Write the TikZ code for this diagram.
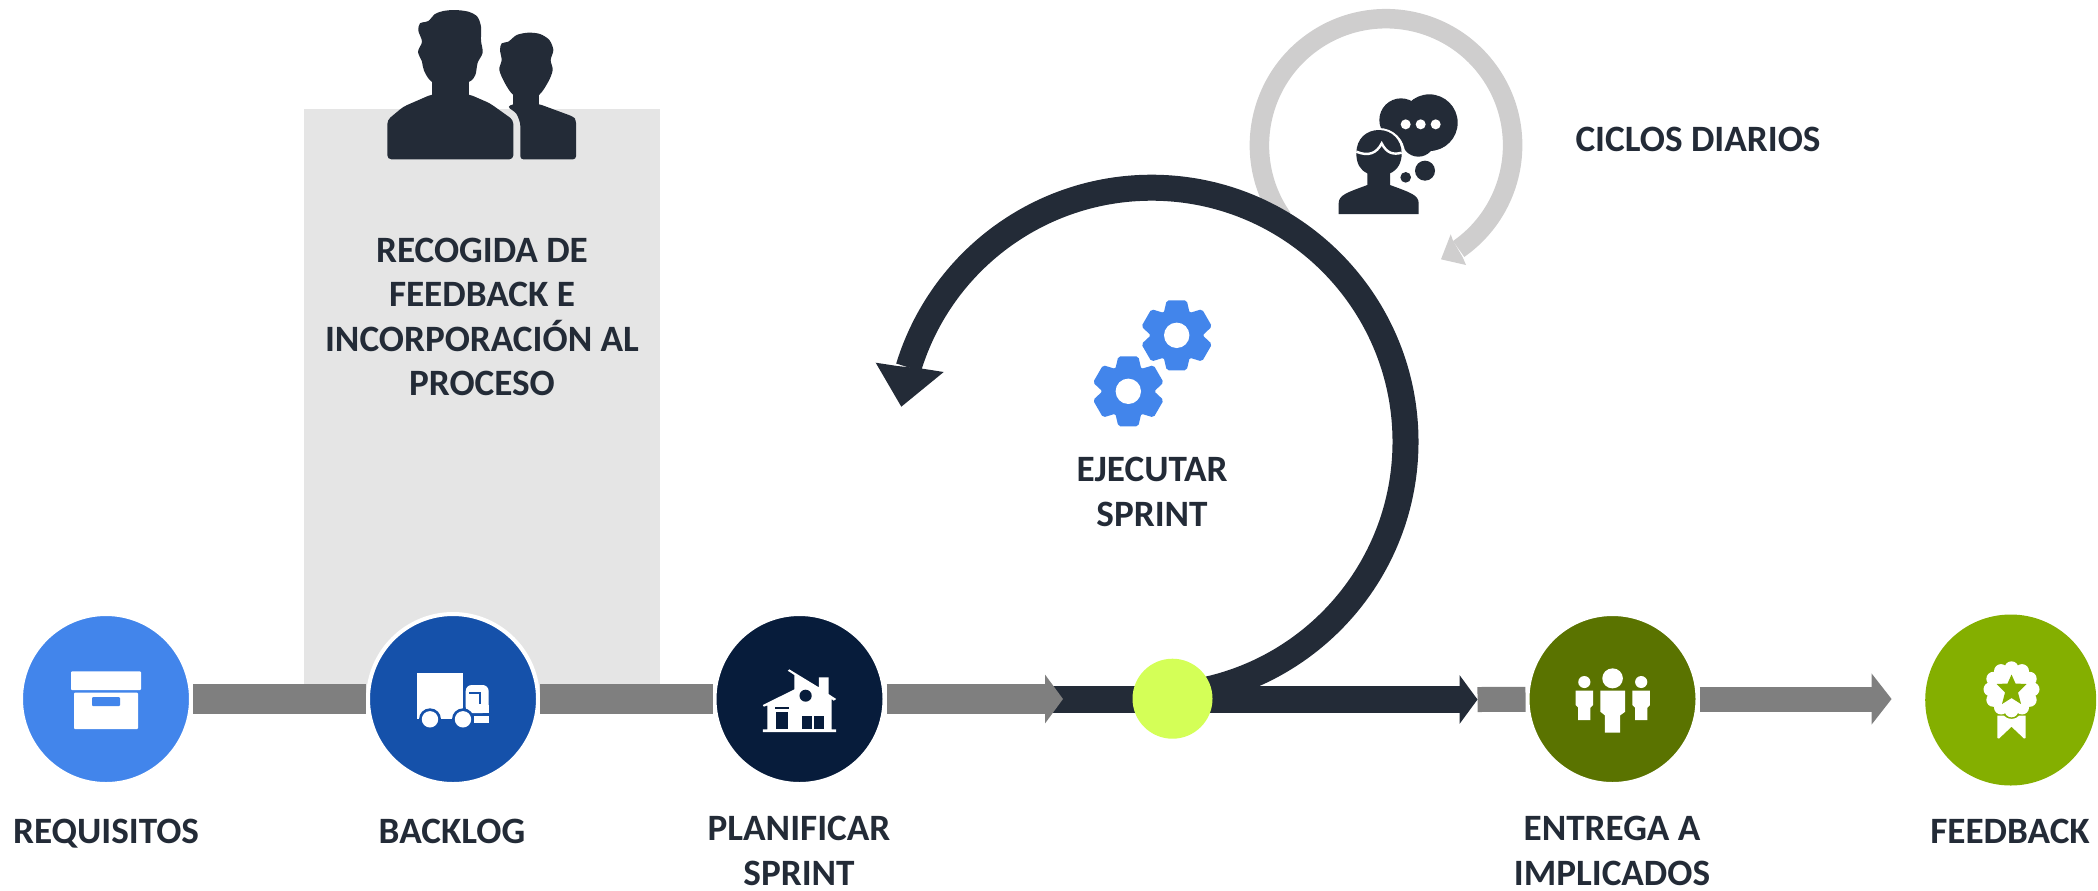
\documentclass[tikz,border=0pt]{standalone}
\usepackage{fontspec}
\setmainfont{Carlito}
\usetikzlibrary{arrows.meta}
\definecolor{ink}{HTML}{232B37}
\definecolor{barg}{HTML}{7F7F7F}
\definecolor{panelg}{HTML}{E5E5E5}
\definecolor{lightarc}{HTML}{CFCECE}
\definecolor{cone}{HTML}{4285EB}
\definecolor{ctwo}{HTML}{1551AA}
\definecolor{cthree}{HTML}{071C3B}
\definecolor{cfour}{HTML}{5A7300}
\definecolor{cfive}{HTML}{84AF00}
\definecolor{lime}{HTML}{D4FF57}
\tikzset{
  stage/.style={circle,inner sep=0pt,minimum size=85pt,draw=white,line width=2pt},
  lbl/.style={text=ink,align=center,inner sep=0pt,font=\fontsize{18.6}{22.3}\selectfont\bfseries},
  barwide/.style={draw=barg,line width=15pt},
  barthin/.style={draw=barg,line width=12.5pt},
  gear/.pic={
    \fill[cone] (0,0) circle[radius=27];
    \foreach \a in {0,60,...,300}{
      \fill[cone,rotate=\a,rounded corners=1pt] (-13.5,-20) -- (-10,-35) -- (10,-35) -- (13.5,-20) -- cycle;
    }
    \fill[white] (0,0) circle[radius=12.7];
  }
}
\begin{document}
\begin{tikzpicture}[x=0.5pt,y=-0.5pt]
\useasboundingbox (0,0) rectangle (2098,890);
% panel
\fill[panelg] (304,109) rectangle (659.5,700);
% stage nodes
\node[stage,fill=cone] (c1) at (106,699) {};
\node[stage,fill=ctwo] (c2) at (453,699) {};
\node[stage,fill=cthree] (c3) at (799.5,699) {};
\node[stage,fill=cfour] (c4) at (1612.5,699) {};
\node[circle,inner sep=0pt,minimum size=85.5pt,fill=cfive] (c5) at (2010.7,700) {};
\coordinate (a3end) at (1063,699);
\coordinate (d0) at (1050,699.5);
\coordinate (d1) at (1477.5,699.5);
\coordinate (a5end) at (1891.6,699);
\coordinate (darkstart) at (1151.5,695.7);
\coordinate (lightstart) at (1282.3,217.9);
% light loop
\draw[lightarc,line width=9.75pt] (lightstart) arc[start angle=-215,end angle=55,radius=126.6];
\fill[lightarc] (1441,259.3) -- (1450.7,234.3) -- (1453,240.7) -- (1462.7,257.3) -- (1466,265) -- cycle;
% grey bars
\draw[barwide] (c1) -- (c2);
\draw[barwide] (c2) -- (c3);
\draw[barthin] (d1) -- (c4);
% dark sprint flow
\draw[ink,line width=13.5pt,-{Triangle[length=9pt,width=24pt]}] (d0) -- (d1);
\draw[ink,line width=13pt] (darkstart) arc[start angle=90,end angle=-163,radius=254];
\fill[ink] (901.3,406.7) -- (875.7,362.7) -- (897.3,366) -- (922.7,368.7) -- (943.7,372) -- cycle;
\draw[barwide,-{Triangle[length=9pt,width=24pt]}] (c3) -- (a3end);
\draw[barthin,-{Triangle[length=10pt,width=25pt]}] (c4) -- (a5end);
\node[circle,inner sep=0pt,minimum size=40pt,fill=lime] (y) at (1172.5,698.7) {};
% box icon
\fill[white,rounded corners=0.5pt] (71,671.3) rectangle (141,690);
\fill[white,rounded corners=0.5pt] (74,692.7) rectangle (138,729);
\fill[cone,rounded corners=0.5pt] (92,697) rectangle (120,706);
% truck icon
\fill[white] (417,672.7) rectangle (463,719.3);
\fill[white,rounded corners=3pt] (465.7,713) -- (465.7,685) -- (488.6,685) -- (488.6,713) -- cycle;
\fill[white] (465.7,705) rectangle (488.6,713);
\draw[ctwo,line width=1pt] (469,693) -- (480,693) -- (480,704);
\fill[white] (474,716.3) rectangle (488.6,723.3);
\foreach \w in {430,463}{
  \fill[ctwo] (\w,719.3) circle[radius=11];
  \fill[white] (\w,719.3) circle[radius=8.2];
}
% house icon
\begin{scope}[shift={(700,600)},x=0.2551pt,y=-0.1667pt]
\fill[white] (123,315) -- (185,268) -- (185,225) -- (172,212) -- (175,208) -- (233,262) -- (233,232) -- (252,232) -- (252,282) -- (267,297) -- (262,302) -- (258,297) -- (258,388) -- (267,388) -- (267,396) -- (123,396) -- (123,388) -- (132,388) -- (132,316) -- (125,320) -- cycle;
\fill[cthree] (207,287) ellipse[x radius=12,y radius=18];
\fill[cthree] (147,320) rectangle (175,327);
\fill[cthree] (149,335) rectangle (173,388);
\fill[cthree] (200,347) rectangle (220,388);
\fill[cthree] (223,347) rectangle (243,388);
\end{scope}
% team icon
\begin{scope}[shift={(1500,600)},x=0.1908pt,y=-0.1667pt]
\fill[white] (295,235) ellipse[x radius=27,y radius=30];
\fill[white] (221,246) ellipse[x radius=16,y radius=18];
\fill[white] (370,246) ellipse[x radius=16,y radius=18];
\fill[white] (263,272) -- (328,272) -- (328,335) -- (315,346) -- (315,398) -- (275,398) -- (275,346) -- (263,335) -- cycle;
\fill[white] (198,272) -- (244,272) -- (244,315) -- (237,323) -- (237,360) -- (205,360) -- (205,323) -- (198,315) -- cycle;
\fill[white] (347,272) -- (393,272) -- (393,315) -- (386,323) -- (386,360) -- (354,360) -- (354,323) -- (347,315) -- cycle;
\end{scope}
% medal icon
\foreach \a in {0,30,...,330}{
  \fill[white] (2011.5,689.3) ++(\a:21) circle[radius=7];
}
\fill[white] (2011.5,689.3) circle[radius=22];
\fill[cfive] (2011.5,674.5) -- (2015.5,683.5) -- (2026.5,684) -- (2018,692.5) -- (2021,704) -- (2011.5,698) -- (2002,704) -- (2005,692.5) -- (1996.5,684) -- (2007.5,683.5) -- cycle;
\fill[white] (1997.3,715.7) -- (2004,715.7) .. controls (2007,720) and (2016,720) .. (2019,715.7) -- (2025.6,715.7) -- (2025.6,738) -- (2024,738.5) -- (2011.5,726.7) -- (1999,738.5) -- (1997.3,738) -- cycle;
% gears
\pic at (1176.7,335.3) {gear};
\pic at (1128.3,391.3) {gear};
% people icon
\begin{scope}[shift={(340,0)},x=0.16667pt,y=-0.16667pt]
\fill[ink,rounded corners=2pt] (142,478) -- (142,360) -- (190,320) -- (275,283) -- (388,283) -- (450,310) -- (520,360) -- (520,478) -- cycle;
\fill[ink] (275,200) rectangle (388,300);
\fill[ink] plot[smooth cycle,tension=0.5] coordinates {(275,245) (252,212) (246,185) (234,155) (246,125) (235,92) (240,70) (265,63) (285,42) (310,33) (345,30) (385,35) (412,50) (423,80) (423,122) (428,158) (413,188) (406,225) (388,245) (330,262)};
\fill[ink] (520,240) rectangle (597,330);
\fill[ink,rounded corners=1.5pt] (541,478) -- (541,370) -- (530,340) -- (502,320) -- (520,312) -- (597,312) -- (700,350) -- (708,360) -- (708,478) -- cycle;
\fill[ink] plot[smooth cycle,tension=0.5] coordinates {(520,285) (495,250) (478,210) (485,180) (480,150) (485,130) (505,125) (530,105) (565,98) (600,102) (628,120) (640,150) (632,180) (638,210) (625,245) (597,285) (558,295)};
\end{scope}
% thinking person icon
\begin{scope}[shift={(1240,0)},x=0.16667pt,y=-0.16667pt]
\fill[ink] (568,368) circle[radius=85];
\fill[ink] (483,360) circle[radius=65];
\fill[ink] (535,420) circle[radius=50];
\fill[ink] (590,400) circle[radius=45];
\fill[white] (497,373) circle[radius=15];
\fill[white] (542,373) circle[radius=15];
\fill[white] (587,373) circle[radius=15];
\fill[ink] (555,512) circle[radius=30];
\fill[ink] (497,532) circle[radius=16];
\fill[white] (417,462) circle[radius=78];
\fill[ink] (296,642) -- (296,610) .. controls (296,585) and (320,578) .. (382,555) -- (382,520) .. controls (360,510) and (349,490) .. (349,460) .. controls (349,415) and (380,390) .. (417,390) .. controls (455,390) and (485,420) .. (485,460) .. controls (485,490) and (472,510) .. (450,520) -- (450,555) .. controls (512,578) and (536,585) .. (536,610) -- (536,642) -- cycle;
\draw[white,line width=1.2pt] (349,455) .. controls (385,470) and (410,460) .. (425,430) .. controls (440,460) and (460,465) .. (485,458);
\end{scope}
% labels
\node[lbl,text depth=0pt] (t1) at (106,831) {REQUISITOS};
\node[lbl] (t2) at (452,831) {BACKLOG};
\node[lbl] (t3) at (799,851) {PLANIFICAR\\SPRINT};
\node[lbl] (t4) at (1612,851) {ENTREGA A\\IMPLICADOS};
\node[lbl] (t5) at (2010,831) {FEEDBACK};
\node[lbl] (t6) at (1152,492) {EJECUTAR\\SPRINT};
\node[lbl] (t7) at (482,317) {RECOGIDA DE\\FEEDBACK E\\INCORPORACIÓN AL\\PROCESO};
\node[lbl] (t8) at (1698,139) {CICLOS DIARIOS};
\end{tikzpicture}
\end{document}
